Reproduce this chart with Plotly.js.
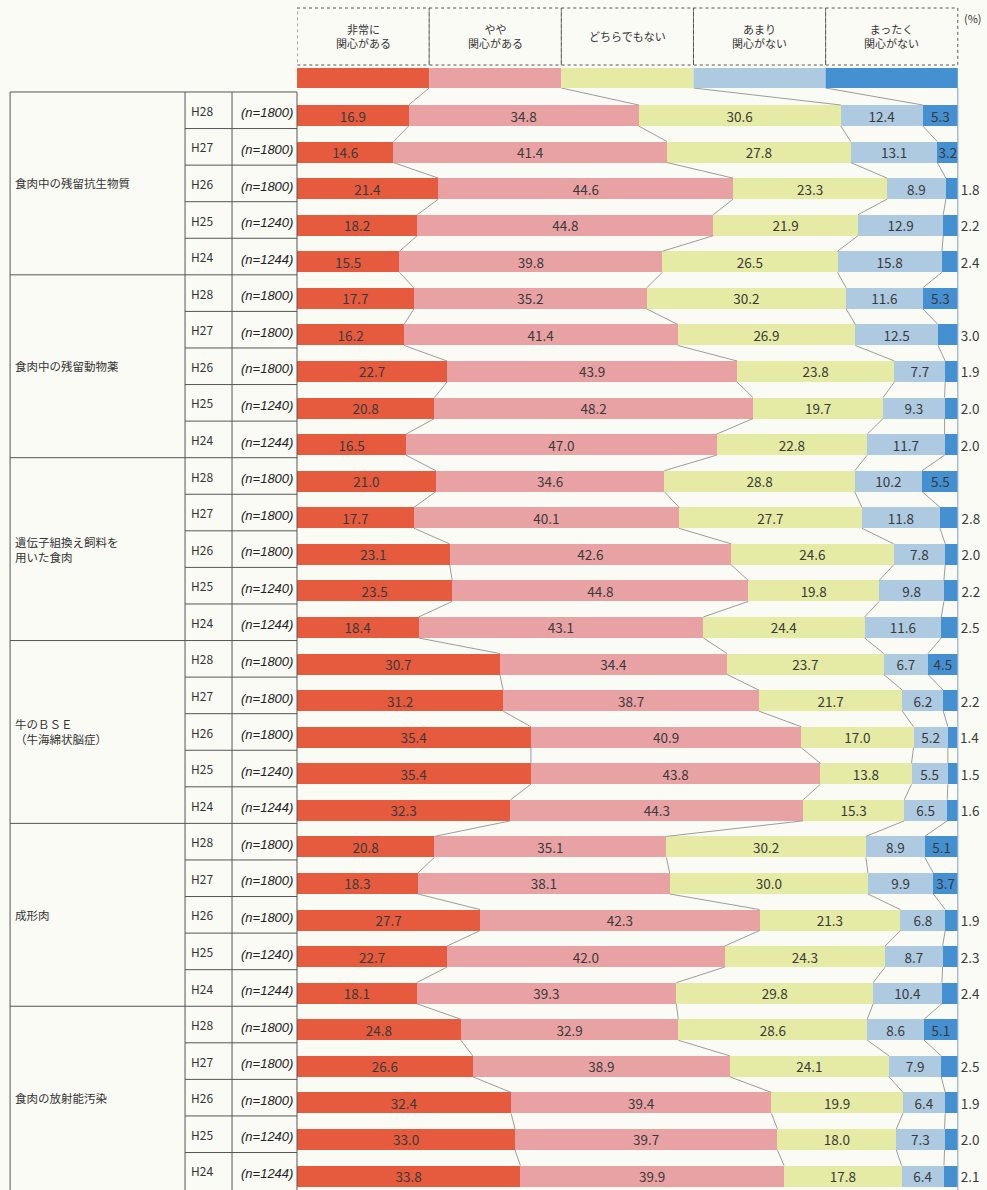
<!DOCTYPE html>
<html>
<head>
<meta charset="utf-8">
<script src="https://cdn.plot.ly/plotly-3.0.1.min.js"></script>
<style>html,body{margin:0;padding:0;background:#fbfbf6;}#chart{width:987px;height:1190px;}</style>
</head>
<body>
<div id="chart"></div>
<script>
// ---------------- DATA ----------------
const responseLabels = ["非常に<br>関心がある", "やや<br>関心がある", "どちらでもない", "あまり<br>関心がない", "まったく<br>関心がない"];
const categories = ["食肉中の残留抗生物質", "食肉中の残留動物薬", "遺伝子組換え飼料を<br>用いた食肉", "牛のＢＳＥ<br>（牛海綿状脳症）", "成形肉", "食肉の放射能汚染"];
const years = ["H28", "H27", "H26", "H25", "H24"];
const sampleSizes = ["(n=1800)", "(n=1800)", "(n=1800)", "(n=1240)", "(n=1244)"];

// one value per row: 6 categories x 5 years (H28..H24)
const veryInterested = [
  16.9, 14.6, 21.4, 18.2, 15.5,
  17.7, 16.2, 22.7, 20.8, 16.5,
  21.0, 17.7, 23.1, 23.5, 18.4,
  30.7, 31.2, 35.4, 35.4, 32.3,
  20.8, 18.3, 27.7, 22.7, 18.1,
  24.8, 26.6, 32.4, 33.0, 33.8
];
const somewhatInterested = [
  34.8, 41.4, 44.6, 44.8, 39.8,
  35.2, 41.4, 43.9, 48.2, 47.0,
  34.6, 40.1, 42.6, 44.8, 43.1,
  34.4, 38.7, 40.9, 43.8, 44.3,
  35.1, 38.1, 42.3, 42.0, 39.3,
  32.9, 38.9, 39.4, 39.7, 39.9
];
const neither = [
  30.6, 27.8, 23.3, 21.9, 26.5,
  30.2, 26.9, 23.8, 19.7, 22.8,
  28.8, 27.7, 24.6, 19.8, 24.4,
  23.7, 21.7, 17.0, 13.8, 15.3,
  30.2, 30.0, 21.3, 24.3, 29.8,
  28.6, 24.1, 19.9, 18.0, 17.8
];
const notVeryInterested = [
  12.4, 13.1, 8.9, 12.9, 15.8,
  11.6, 12.5, 7.7, 9.3, 11.7,
  10.2, 11.8, 7.8, 9.8, 11.6,
  6.7, 6.2, 5.2, 5.5, 6.5,
  8.9, 9.9, 6.8, 8.7, 10.4,
  8.6, 7.9, 6.4, 7.3, 6.4
];
const notInterestedAtAll = [
  5.3, 3.2, 1.8, 2.2, 2.4,
  5.3, 3.0, 1.9, 2.0, 2.0,
  5.5, 2.8, 2.0, 2.2, 2.5,
  4.5, 2.2, 1.4, 1.5, 1.6,
  5.1, 3.7, 1.9, 2.3, 2.4,
  5.1, 2.5, 1.9, 2.0, 2.1
];

const series = [veryInterested, somewhatInterested, neither, notVeryInterested, notInterestedAtAll];
const colors = ["#e65b3d", "#e9a2a4", "#e5eba4", "#adcae0", "#4490d1"];

// ---------------- GEOMETRY ----------------
const W = 987, H = 1190;
const PLOT_L = 297, PX_100 = 958;
const PX_PER_PCT = (PX_100 - PLOT_L) / 100;
const X_MAX = 102;                       // a little room so bars summing to 100.1 stay in range
const PLOT_R = PLOT_L + X_MAX * PX_PER_PCT;
const ROW0_PX = 115.5, ROW_PX = 36.57;
const yTop = -ROW0_PX / ROW_PX;
const yBottom = yTop + H / ROW_PX;
const rowAt = px => yTop + px / ROW_PX;
const paperX = px => (px - PLOT_L) / (PLOT_R - PLOT_L);
const BAR_W = 21 / ROW_PX;
const CELL_OFF = -0.643;
const FONT = "Noto Sans CJK JP, Noto Sans, sans-serif";
const TXT = "#3a3a3a";

const nRows = veryInterested.length;
const rows = Array.from({length: nRows}, (_, i) => i);

// ---------------- TRACES ----------------
const traces = series.map((vals, s) => {
  const isLast = s === series.length - 1;
  return {
    type: "bar",
    orientation: "h",
    name: responseLabels[s],
    x: vals,
    y: rows,
    width: rows.map(() => BAR_W),
    marker: {color: colors[s], line: {width: 0}},
    text: vals.map(v => v.toFixed(1)),
    textposition: vals.map(v => (isLast && v < 3.1) ? "outside" : "inside"),
    insidetextanchor: "middle",
    textangle: 0,
    constraintext: "none",
    cliponaxis: false,
    textfont: {family: FONT, size: 13.5, color: TXT},
    insidetextfont: {family: FONT, size: 13.5, color: TXT},
    outsidetextfont: {family: FONT, size: 13.5, color: TXT},
    hoverinfo: "skip",
    showlegend: false
  };
});

// connector lines between consecutive bars
const cum = [];
for (let k = 0; k < 4; k++) {
  cum.push(rows.map(i => series.slice(0, k + 1).reduce((a, arr) => a + arr[i], 0)));
}
const cx = [], cy = [];
for (let i = -1; i < nRows - 1; i++) {
  for (let k = 0; k < 4; k++) {
    const x0 = i < 0 ? (k + 1) * 100 / series.length : cum[k][i];
    const y0 = i < 0 ? rowAt(88) : i + BAR_W / 2;
    cx.push(x0, cum[k][i + 1], null);
    cy.push(y0, i + 1 - BAR_W / 2, null);
  }
}
traces.push({
  type: "scatter", mode: "lines", x: cx, y: cy,
  line: {color: "#9c9c9c", width: 1}, hoverinfo: "skip", showlegend: false, cliponaxis: false
});

// ---------------- SHAPES ----------------
const shapes = [];
const seg = 100 / responseLabels.length;
responseLabels.forEach((_, k) => {
  shapes.push({type: "rect", xref: "x", yref: "y", x0: k * seg, x1: (k + 1) * seg,
    y0: rowAt(8), y1: rowAt(65), line: {color: "#555", width: 1, dash: "dot"}, fillcolor: "rgba(0,0,0,0)"});
  shapes.push({type: "rect", xref: "x", yref: "y", x0: k * seg, x1: (k + 1) * seg,
    y0: rowAt(68), y1: rowAt(88), line: {width: 0}, fillcolor: colors[k]});
});
// 100% line
shapes.push({type: "line", xref: "x", yref: "y", x0: 100, x1: 100, y0: rowAt(88), y1: yBottom,
  line: {color: "#8fb0cd", width: 1.2}});
// table verticals
[10, 185, 232, 297].forEach(px => {
  shapes.push({type: "line", xref: "paper", yref: "y", x0: paperX(px), x1: paperX(px),
    y0: rowAt(92), y1: yBottom, line: {color: "#555", width: 1}});
});
// table horizontals
for (let i = 0; i < nRows; i++) {
  const y = i + CELL_OFF;
  const left = (i % years.length === 0) ? 10 : 185;
  shapes.push({type: "line", xref: "paper", yref: "y", x0: paperX(left), x1: paperX(297),
    y0: y, y1: y, line: {color: "#555", width: 1}});
}

// ---------------- ANNOTATIONS ----------------
const annotations = [];
responseLabels.forEach((t, k) => {
  annotations.push({xref: "x", yref: "y", x: k * seg + seg / 2, y: rowAt(36), text: t,
    showarrow: false, font: {family: FONT, size: 11, color: "#333"}, align: "center"});
});
annotations.push({xref: "paper", yref: "y", x: paperX(962), xanchor: "left", y: rowAt(18), text: "(%)",
  showarrow: false, font: {family: FONT, size: 11, color: "#333"}});
categories.forEach((c, g) => {
  annotations.push({xref: "paper", yref: "y", x: paperX(13), xanchor: "left", align: "left",
    y: g * years.length + CELL_OFF + years.length / 2, text: c, showarrow: false,
    font: {family: FONT, size: 11.5, color: "#333"}});
  years.forEach((yr, j) => {
    const r = g * years.length + j;
    annotations.push({xref: "paper", yref: "y", x: paperX(189), xanchor: "left", y: r - 0.14,
      text: yr, showarrow: false, font: {family: FONT, size: 12, color: "#333"}});
    annotations.push({xref: "paper", yref: "y", x: paperX(295), xanchor: "right", y: r - 0.07,
      text: "<i>" + sampleSizes[j] + "</i>", showarrow: false,
      font: {family: "Liberation Sans, Arial, sans-serif", size: 13, color: "#222"}});
  });
});

const layout = {
  width: W, height: H,
  margin: {l: PLOT_L, r: W - PLOT_R, t: 0, b: 0, pad: 0},
  paper_bgcolor: "#fbfbf6",
  plot_bgcolor: "rgba(0,0,0,0)",
  barmode: "stack",
  showlegend: false,
  xaxis: {range: [0, X_MAX], visible: false, fixedrange: true},
  yaxis: {range: [yBottom, yTop], visible: false, fixedrange: true},
  shapes: shapes,
  annotations: annotations
};

Plotly.newPlot("chart", traces, layout, {displayModeBar: false, staticPlot: true});
</script>
</body>
</html>
